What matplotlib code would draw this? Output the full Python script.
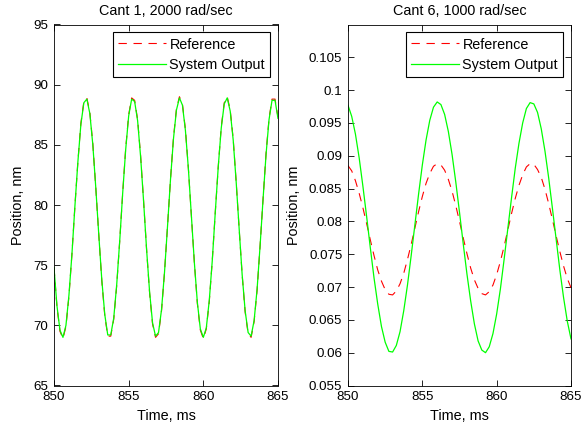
import matplotlib
matplotlib.use("Agg")
import matplotlib.pyplot as plt
from matplotlib.ticker import FuncFormatter

# ---------------- data ----------------
# Left panel: Cant 1, 2000 rad/sec (time step 0.2 ms from 850 ms)
t_left = [850 + 0.2 * k for k in range(76)]
out_left = [74.8, 71.6, 69.6, 69.0, 70.0, 72.5, 75.9, 79.9, 83.6, 86.7,
            88.5, 88.8, 87.6, 85.0, 81.4, 77.5, 73.8, 70.9, 69.2, 69.2,
            70.6, 73.4, 77.0, 81.0, 84.6, 87.4, 88.8, 88.6, 87.0, 84.0,
            80.3, 76.3, 72.8, 70.2, 69.1, 69.4, 71.3, 74.4, 78.2, 82.1,
            85.5, 87.9, 88.9, 88.3, 86.2, 83.0, 79.1, 75.2, 71.9, 69.7,
            69.0, 69.8, 72.1, 75.4, 79.4, 83.2, 86.4, 88.4, 88.9, 87.8,
            85.4, 81.9, 78.0, 74.2, 71.2, 69.4, 69.1, 70.4, 73.0, 76.6,
            80.5, 84.2, 87.1, 88.7, 88.7, 87.2]
ref_left = [74.8, 71.5, 69.5, 68.9, 69.9, 72.4, 75.9, 79.9, 83.6, 86.8,
            88.6, 88.9, 87.7, 85.1, 81.4, 77.5, 73.7, 70.8, 69.1, 69.1,
            70.5, 73.3, 77.0, 81.0, 84.7, 87.5, 88.9, 88.7, 87.1, 84.1,
            80.3, 76.3, 72.7, 70.1, 69.0, 69.3, 71.2, 74.4, 78.2, 82.1,
            85.6, 88.0, 89.0, 88.4, 86.3, 83.0, 79.1, 75.2, 71.8, 69.6,
            68.9, 69.7, 72.0, 75.4, 79.4, 83.2, 86.5, 88.5, 89.0, 87.9,
            85.5, 81.9, 78.0, 74.2, 71.1, 69.3, 69.0, 70.3, 72.9, 76.6,
            80.5, 84.3, 87.2, 88.8, 88.8, 87.3]

# Right panel: Cant 6, 1000 rad/sec (time step 0.25 ms from 850 ms)
t_right = [850 + 0.25 * k for k in range(61)]
out_right = [0.0977, 0.0960, 0.0933, 0.0897, 0.0854, 0.0808, 0.0760, 0.0714,
             0.0674, 0.0640, 0.0616, 0.0602, 0.0601, 0.0611, 0.0632, 0.0664,
             0.0703, 0.0748, 0.0795, 0.0842, 0.0886, 0.0924, 0.0954, 0.0974,
             0.0982, 0.0978, 0.0963, 0.0937, 0.0902, 0.0860, 0.0814, 0.0766,
             0.0720, 0.0679, 0.0644, 0.0618, 0.0604, 0.0600, 0.0609, 0.0629,
             0.0659, 0.0697, 0.0742, 0.0789, 0.0836, 0.0881, 0.0919, 0.0950,
             0.0972, 0.0981, 0.0979, 0.0966, 0.0941, 0.0907, 0.0866, 0.0820,
             0.0773, 0.0726, 0.0684, 0.0648, 0.0621]
ref_right = [0.0885, 0.0877, 0.0862, 0.0843, 0.0821, 0.0797, 0.0772, 0.0748,
             0.0726, 0.0709, 0.0696, 0.0689, 0.0688, 0.0694, 0.0705, 0.0721,
             0.0742, 0.0765, 0.0790, 0.0815, 0.0838, 0.0858, 0.0873, 0.0884,
             0.0888, 0.0886, 0.0878, 0.0864, 0.0846, 0.0824, 0.0800, 0.0775,
             0.0751, 0.0729, 0.0711, 0.0698, 0.0690, 0.0688, 0.0693, 0.0703,
             0.0719, 0.0739, 0.0762, 0.0787, 0.0812, 0.0835, 0.0855, 0.0871,
             0.0883, 0.0888, 0.0887, 0.0879, 0.0867, 0.0849, 0.0827, 0.0803,
             0.0778, 0.0754, 0.0732, 0.0713, 0.0699]

titles = ["Cant 1, 2000 rad/sec", "Cant 6, 1000 rad/sec"]
legend_labels = ["Reference", "System Output"]
x_ticks = [850, 855, 860, 865]
y_ticks_left = [65, 70, 75, 80, 85, 90, 95]
y_ticks_right = [0.055, 0.06, 0.065, 0.07, 0.075, 0.08, 0.085, 0.09, 0.095, 0.1, 0.105]

# ---------------- figure ----------------
plt.rcParams['font.family'] = ['Liberation Sans', 'DejaVu Sans']
plt.rcParams['font.size'] = 9.6

W, H = 581, 429
fig = plt.figure(figsize=(W / 100, H / 100), dpi=100)

def px_axes(x0, x1, ytop, ybot):
    return fig.add_axes([x0 / W, 1 - ybot / H, (x1 - x0) / W, (ybot - ytop) / H])

axL = px_axes(54, 278, 24.5, 385.5)
axR = px_axes(348, 571, 24.5, 385.5)

TXT = 10.4

def style(ax):
    ax.tick_params(direction='in', length=4, width=0.6, top=True, right=True,
                   labelsize=9.6, pad=4, colors='black')
    for s in ax.spines.values():
        s.set_linewidth(0.6)
        s.set_color('black')

# left
axL.plot(t_left, ref_left, color=(1, 0, 0), lw=0.8, dashes=(7.5, 6), label=legend_labels[0])
axL.plot(t_left, out_left, color=(0, 1, 0), lw=0.9, label=legend_labels[1])
axL.set_xlim(850, 865)
axL.set_ylim(65, 95)
axL.set_xticks(x_ticks)
axL.set_yticks(y_ticks_left)

# right
axR.plot(t_right, ref_right, color=(1, 0, 0), lw=0.8, dashes=(7.5, 6), label=legend_labels[0])
axR.plot(t_right, out_right, color=(0, 1, 0), lw=0.9, label=legend_labels[1])
axR.set_xlim(850, 865)
axR.set_ylim(0.055, 0.11)
axR.set_xticks(x_ticks)
axR.set_yticks(y_ticks_right)
axR.yaxis.set_major_formatter(FuncFormatter(lambda v, p: ('%g' % round(v, 4))))

for ax, ttl in zip((axL, axR), titles):
    style(ax)
    ax.set_title(ttl, fontsize=TXT, pad=7)
    ax.set_xlabel("Time, ms", fontsize=TXT, labelpad=4)
    ax.set_ylabel("Position, nm", fontsize=TXT, labelpad=6)
    leg = ax.legend(loc='upper right', fontsize=TXT, fancybox=False, framealpha=1,
                    edgecolor='black', handlelength=3.3, borderaxespad=0.55,
                    borderpad=0.35, labelspacing=0.45, handletextpad=0.25)
    leg.get_frame().set_linewidth(0.8)

fig.savefig("out.png", dpi=100)
